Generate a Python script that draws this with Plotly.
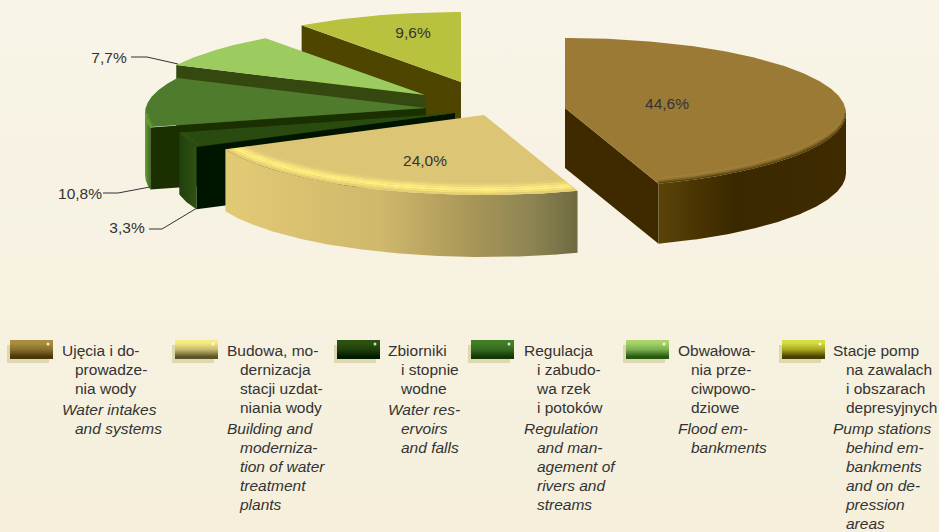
import numpy as np
import plotly.graph_objects as go

# ---------- data ----------
categories_pl = ["Ujęcia i doprowadzenia wody", "Budowa, modernizacja stacji uzdatniania wody",
                 "Zbiorniki i stopnie wodne", "Regulacja i zabudowa rzek i potoków",
                 "Obwałowania przeciwpowodziowe", "Stacje pomp na zawalach i obszarach depresyjnych"]
shares = [44.6, 24.0, 3.3, 10.8, 7.7, 9.6]
share_labels = ["44,6%", "24,0%", "3,3%", "10,8%", "7,7%", "9,6%"]

legend_pl = [
    ["Ujęcia i do-", "prowadze-", "nia wody"],
    ["Budowa, mo-", "dernizacja", "stacji uzdat-", "niania wody"],
    ["Zbiorniki", "i stopnie", "wodne"],
    ["Regulacja", "i zabudo-", "wa rzek", "i potoków"],
    ["Obwałowa-", "nia prze-", "ciwpowo-", "dziowe"],
    ["Stacje pomp", "na zawalach", "i obszarach", "depresyjnych"],
]
legend_en = [
    ["Water intakes", "and systems"],
    ["Building and", "moderniza-", "tion of water", "treatment", "plants"],
    ["Water res-", "ervoirs", "and falls"],
    ["Regulation", "and man-", "agement of", "rivers and", "streams"],
    ["Flood em-", "bankments"],
    ["Pump stations", "behind em-", "bankments", "and on de-", "pression", "areas"],
]

# ---------- styling / layout ----------
W, H = 939, 532
RX, RY, CY_SHIFT = 281, 75, 5
DEPTH = [60, 62, 62, 62, 62, 62]
CENTER = (470, 105)
EXPLODE = [(95, 3), (14, 10), (-15, 8), (-44, 3), (-45, -10), (-9, -23)]
TOP = ["#9a7a35", "#dcc574", "#2a4b10", "#4f7c2c", "#9ccb60", "#b9c23e"]
CUT = ["#3f2a00", None, "#001500", "#1a3000", "#35480f", "#4d4500"]
WALL = [
    [[0, "#5c4409"], [0.2, "#4a3502"], [0.4, "#3a2800"], [1, "#402b00"]],
    [[0, "#e2ca75"], [0.44, "#d0b86c"], [0.70, "#a89658"], [0.86, "#8f8654"], [1, "#6e6a40"]],
    [[0, "#20400c"], [1, "#2f5212"]],
    [[0, "#6aa035"], [1, "#3d6a1e"]],
    None, None,
]
BEVEL = [
    ["#9a7a35", "#9b7b36", "#a08038", "#967632", "#7a5f22", "#574210"],
    ["#e2cb76", "#efda7a", "#fbe97f", "#fff080", "#f5e27a", "#e6cf74"],
    ["#2a4b10", "#2d4f12", "#2f5213", "#2f5213", "#2d4f12", "#2a4b10"],
    ["#4f7c2c", "#538230", "#5a8c30", "#639832", "#6aa035", "#6aa035"],
    None, None,
]
BEVEL_STEP = [1.4, 2.0, 1.0, 1.5, 0, 0]
SWATCH = [
    ["#aa8e3e", "#8a6f2d", "#4a3608"], ["#f6ec80", "#c8ba70", "#5a5426"],
    ["#2c5210", "#1f400c", "#001a00"], ["#417f26", "#356a20", "#113805"],
    ["#a8d468", "#7ab050", "#285810"], ["#d4de40", "#a8a820", "#483e00"],
]
SWATCH_X = [10, 175, 337, 471, 626, 782]
TEXT_X = [62, 227, 388, 524, 678, 833]
INDENT = 13
LINE_Y0, LINE_STEP, LANG_GAP = 352, 19.1, 1.5
LABEL_POS = [(667, 105), (425, 162), (127, 229), (80, 195), (109, 59), (413, 34)]
LEADERS = {
    2: ([149, 162, 197], [229, 229, 208]),
    3: ([103, 118, 150], [193, 193, 187]),
    4: ([131, 147, 178], [57, 57, 64]),
}
FONT = "Liberation Sans"
FONT_SIZE = 15.5
INK = "#333333"

fig = go.Figure()


def poly(xs, ys, color=None, grad=None, gtype="horizontal"):
    kw = dict(x=list(xs), y=list(ys), mode="lines", fill="toself", line=dict(width=0),
              hoverinfo="skip", showlegend=False)
    if grad is not None:
        kw["fillgradient"] = dict(type=gtype, colorscale=grad)
        kw["fillcolor"] = None
    else:
        kw["fillcolor"] = color
    fig.add_trace(go.Scatter(**kw))


def arc(ax, ay, a0, a1, inset=0.0, n=240):
    """Elliptical rim; inset moves it up and slightly in (for the rounded edge)."""
    th = np.radians(np.linspace(a0, a1, n))
    lift = inset * np.minimum(1.0, 2.5 * np.abs(np.cos(th)))
    xs = ax + (RX - inset * 0.5) * np.sin(th)
    ys = ay + CY_SHIFT + RY * (-np.cos(th)) - lift
    return xs, ys


def wedge_mask(xs, ys, ax, ay, a0, a1):
    """True where a rim point still lies inside the slice wedge."""
    def angle(x, y):
        return np.degrees(np.arctan2((x - ax) / RX, -(y - ay) / RY)) % 360
    e0, e1 = arc(ax, ay, a0, a0, n=1), arc(ax, ay, a1, a1, n=1)
    lo = angle(e0[0], e0[1])[0]
    hi = angle(e1[0], e1[1])[0]
    ang = angle(xs, ys)
    return (ang >= lo) & (ang <= hi)


# background (the vertical gradient runs bottom to top on this reversed axis)
poly([0, W, W, 0], [0, 0, H, H], grad=[[0, "#f5efdc"], [1, "#f8f4e7"]], gtype="vertical")

# slice angles follow the data (clockwise from 12 o'clock)
edges = np.concatenate([[0], np.cumsum(shares)]) / sum(shares) * 360.0
order = [5, 4, 3, 2, 1, 0]
for i in order:
    a0, a1 = edges[i], edges[i + 1]
    ax, ay = CENTER[0] + EXPLODE[i][0], CENTER[1] + EXPLODE[i][1]
    d = DEPTH[i]
    # cut face towards the viewer
    if CUT[i]:
        ang = a1 if i == 0 else a0
        cx, cy = arc(ax, ay, ang, ang, n=1)
        poly([ax, cx[0], cx[0], ax], [ay, cy[0], cy[0] + d, ay + d], CUT[i])
    # outer wall, only the part facing the viewer
    lo, hi = max(a0, 90), min(a1, 270)
    if lo < hi and WALL[i]:
        tx, ty = arc(ax, ay, lo, hi)
        poly(np.r_[tx, tx[::-1]], np.r_[ty, ty[::-1] + d], grad=WALL[i])
    # top face
    tx, ty = arc(ax, ay, a0, a1)
    poly(np.r_[ax, tx], np.r_[ay, ty], TOP[i])
    # rim bevel, kept inside the wedge
    if BEVEL[i] and lo < hi:
        n = len(BEVEL[i])
        step = BEVEL_STEP[i]
        for k, col in enumerate(BEVEL[i]):
            ox, oy = arc(ax, ay, lo, hi, inset=(n - k - 1) * step)
            ix, iy = arc(ax, ay, lo, hi, inset=(n - k) * step)
            mo, mi = wedge_mask(ox, oy, ax, ay, a0, a1), wedge_mask(ix, iy, ax, ay, a0, a1)
            poly(np.r_[ox[mo], ix[mi][::-1]], np.r_[oy[mo], iy[mi][::-1]], col)

# leader lines
for i, (lx, ly) in LEADERS.items():
    fig.add_trace(go.Scatter(x=lx, y=ly, mode="lines", line=dict(color=INK, width=1),
                             hoverinfo="skip", showlegend=False))

# value labels
fig.add_trace(go.Scatter(x=[p[0] for p in LABEL_POS], y=[p[1] for p in LABEL_POS], mode="text",
                         text=share_labels, textposition="middle center",
                         textfont=dict(family=FONT, size=FONT_SIZE, color=INK),
                         hoverinfo="skip", showlegend=False))

# legend swatches
for i, sx in enumerate(SWATCH_X):
    poly([sx - 3, sx + 39, sx + 39, sx - 3], [345, 345, 363, 363], "#ddd8b0")
    c = SWATCH[i]
    poly([sx, sx + 43, sx + 43, sx], [340, 340, 359, 359],
         grad=[[0, c[2]], [0.12, c[2]], [0.5, c[1]], [0.85, c[0]], [1, c[0]]], gtype="vertical")
fig.add_trace(go.Scatter(x=[s + 38 for s in SWATCH_X], y=[344] * 6, mode="markers",
                         marker=dict(color="rgba(255,255,255,0.8)", size=3),
                         hoverinfo="skip", showlegend=False))

# legend text
for lines, style, start in [(legend_pl, "normal", 0), (legend_en, "italic", None)]:
    xs, ys, ts = [], [], []
    for c, col in enumerate(lines):
        base = 0 if start == 0 else len(legend_pl[c])
        gap = 0 if start == 0 else LANG_GAP
        for j, t in enumerate(col):
            xs.append(TEXT_X[c] + (INDENT if j else 0))
            ys.append(LINE_Y0 + (base + j) * LINE_STEP + gap)
            ts.append(t)
    fig.add_trace(go.Scatter(x=xs, y=ys, text=ts, mode="text", textposition="middle right",
                             textfont=dict(family=FONT, size=FONT_SIZE, color=INK, style=style),
                             hoverinfo="skip", showlegend=False))

fig.update_layout(width=W, height=H, margin=dict(l=0, r=0, t=0, b=0),
                  paper_bgcolor="#f7f2e2", plot_bgcolor="#f7f2e2", showlegend=False,
                  xaxis=dict(range=[0, W], visible=False, fixedrange=True),
                  yaxis=dict(range=[H, 0], visible=False, fixedrange=True))
fig.write_html("out.html", config={"displayModeBar": False},
               post_script="document.body.style.margin='0';document.body.style.overflow='hidden';")
